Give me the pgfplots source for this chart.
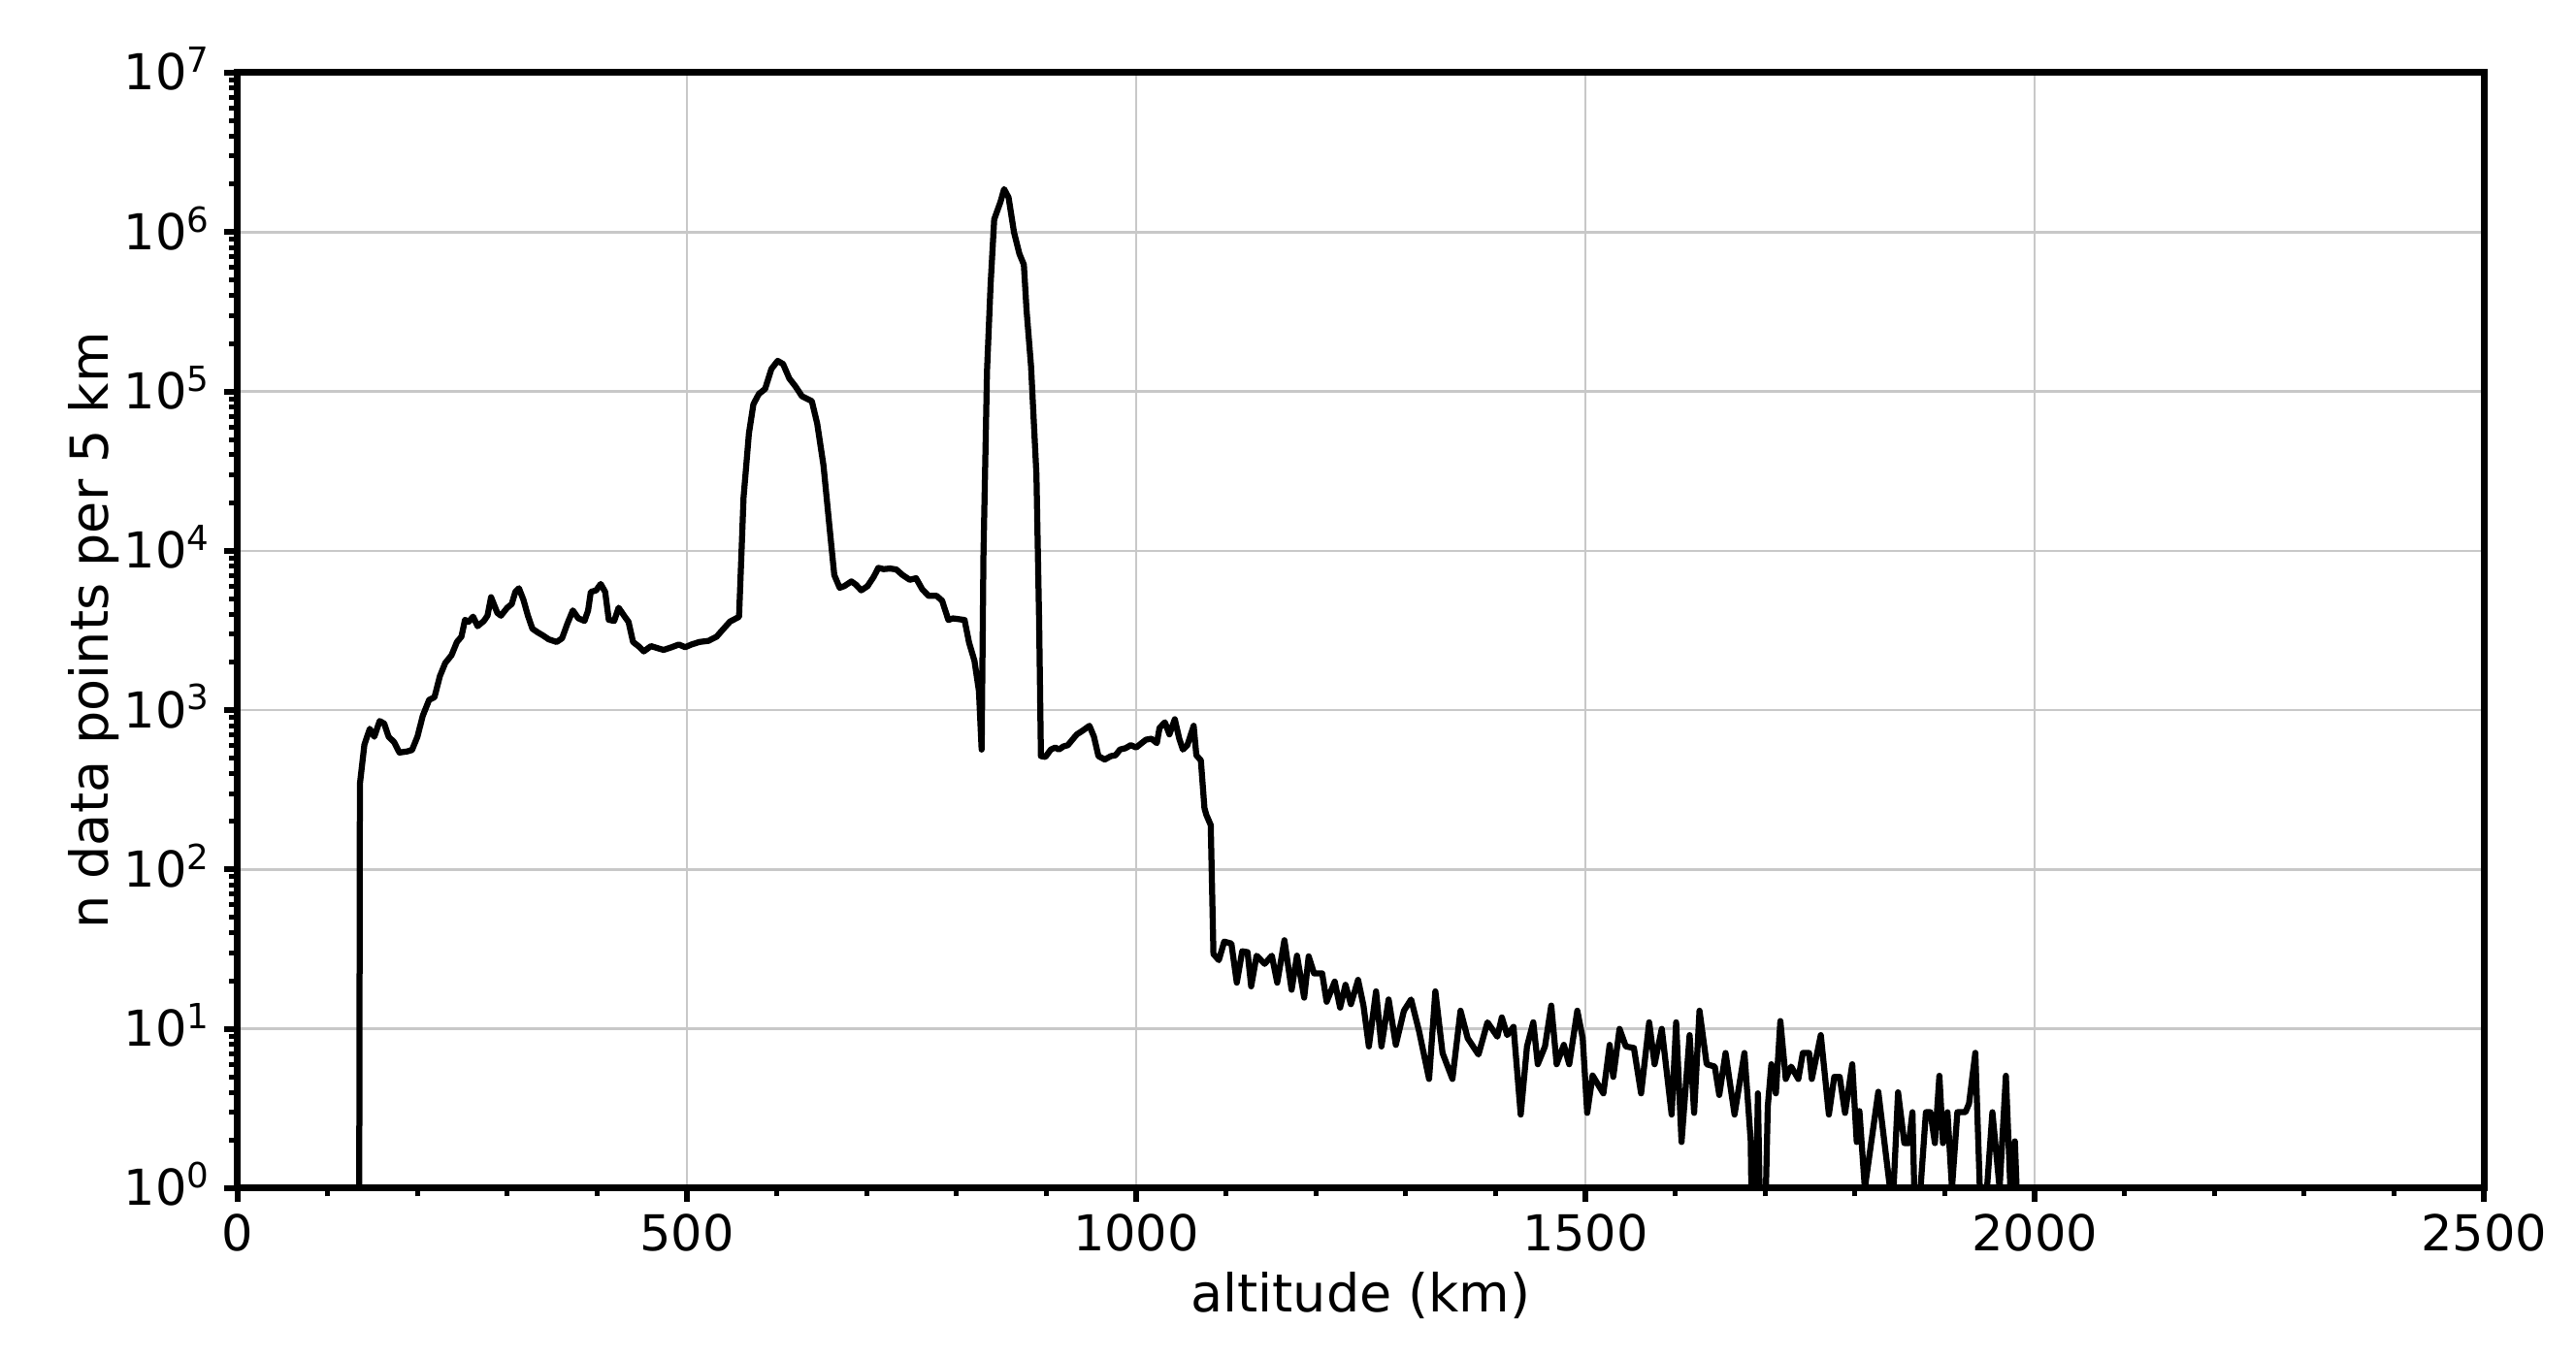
\documentclass[border=0pt]{standalone}
\usepackage{fontspec}
\setmainfont{DejaVu Sans}
\usepackage{pgfplots}
\pgfplotsset{compat=1.18}
\definecolor{gridgray}{RGB}{200,200,200}
\begin{document}
\begin{tikzpicture}
\begin{axis}[
  scale only axis,
  width=463pt, height=230pt,
  xmin=0, xmax=2500,
  ymin=1, ymax=1e7,
  ymode=log, log basis y=10,
  xtick={0,500,1000,1500,2000,2500},
  minor x tick num=4,
  ytick={1,10,100,1000,10000,100000,1000000,10000000},
  yticklabels={10\textsuperscript{0},10\textsuperscript{1},10\textsuperscript{2},10\textsuperscript{3},10\textsuperscript{4},10\textsuperscript{5},10\textsuperscript{6},10\textsuperscript{7}},
  minor ytick={2,3,4,5,6,7,8,9,20,30,40,50,60,70,80,90,200,300,400,500,600,700,800,900,2000,3000,4000,5000,6000,7000,8000,9000,2e4,3e4,4e4,5e4,6e4,7e4,8e4,9e4,2e5,3e5,4e5,5e5,6e5,7e5,8e5,9e5,2e6,3e6,4e6,5e6,6e6,7e6,8e6,9e6},
  tick align=outside,
  tick pos=left,
  major tick length=2.8pt,
  minor tick length=1.7pt,
  every major tick/.append style={line width=1.2pt, black},
  every minor tick/.append style={line width=1pt, black},
  axis line style={line width=1.4pt},
  grid=major,
  major grid style={gridgray, line width=0.5pt},
  /pgf/number format/assume math mode=true,
  /pgf/number format/1000 sep={},
  tick label style={font=\fontsize{10.2}{12}\selectfont},
  xticklabel style={inner sep=0pt, anchor=north, yshift=-2.4pt},
  yticklabel style={inner sep=0pt, anchor=base east, yshift=-0.36em, xshift=-2.4pt},
  label style={font=\fontsize{10.8}{13}\selectfont},
  xlabel={altitude (km)},
  ylabel={n data points per 5 km},
  xlabel style={at={(axis description cs:0.5,0)}, anchor=north, inner sep=0pt, yshift=-17.1pt},
  ylabel style={at={(axis description cs:-0.0525,0.5)}, anchor=south, inner sep=0pt},
]
\addplot[black, line width=1.25pt, line join=round] coordinates {
(135,0.1) (136,344) (141,607) (147,764) (152,681) (158,855) (163,824) (168,681)
(174,631) (180,542) (188,550) (194,562) (200,681) (206,923) (213,1159) (219,1205)
(225,1633) (231,1977) (238,2213) (244,2679) (249,2891) (253,3690) (257,3581)
(262,3864) (267,3365) (274,3631) (278,3917) (282,5117) (289,4074) (293,3917)
(300,4395) (305,4634) (309,5521) (313,5821) (318,4932) (323,3917) (328,3243)
(334,3076) (340,2938) (346,2786) (355,2679) (361,2825) (367,3499) (373,4227)
(379,3776) (386,3631) (390,4227) (393,5521) (399,5649) (404,6194) (409,5521)
(413,3690) (419,3631) (424,4395) (430,3917) (435,3581) (440,2679) (446,2523)
(452,2339) (460,2523) (468,2443) (474,2388) (483,2483) (491,2582) (498,2483)
(505,2582) (514,2679) (524,2723) (533,2891)
(543,3350) (548,3597) (558,3855) (561,10720) (563,21530) (569,54580) (574,83180)
(580,96390) (587,103700) (594,138400) (601,155600) (607,148600) (614,120500)
(621,107200) (628,93330) (639,86900) (645,62810) (652,34280) (659,13520)
(664,7047) (670,5861) (675,5998) (683,6427) (688,6138) (694,5649) (701,5998)
(708,6887) (713,7816) (719,7674) (726,7745) (733,7638) (740,7047) (748,6577)
(755,6730) (762,5728) (769,5212) (778,5212) (784,4864) (791,3681) (796,3767)
(804,3715) (809,3681) (814,2655)
(820,2042) (825,1318) (828,566) (830,9162) (834,134900) (838,472000)
(842,1202000) (849,1549000) (853,1862000) (858,1648000) (864,1000000)
(870,731000) (875,625000) (878,323600) (883,143900) (889,30060) (892,3581)
(894,515) (899,509) (905,566) (910,583) (914,566) (919,592) (924,603) (929,653)
(934,705) (940,741) (948,798) (953,682) (958,515) (965,490) (972,515) (977,521)
(982,566) (988,577) (994,603) (1000,583) (1006,621) (1011,653) (1017,662)
(1023,621) (1026,774) (1032,839) (1037,705) (1043,877) (1048,661) (1052,566)
(1057,603) (1064,798) (1067,521) (1072,484) (1076,243) (1078,221) (1083,190)
(1086,29.5) (1092,27) (1098,35.3) (1106,34.3) (1112,19.5) (1118,30.7) (1124,30.3)
(1128,18.5) (1134,28.8) (1143,25.6) (1151,28.8) (1157,19.5) (1165,36) (1173,17.6)
(1179,28.8) (1187,15.7) (1192,28.5) (1198,22.3) (1207,22.3) (1212,14.8)
(1221,19.8) (1227,13.6) (1233,18.9) (1239,14.3) (1247,20.3) (1253,14) (1259,7.76)
(1267,17.2) (1273,7.76) (1281,15.3) (1289,7.94) (1298,13) (1306,15.3) (1315,9.6)
(1326,4.85) (1333,17.2) (1341,7.06) (1352,4.85) (1361,13) (1369,8.73) (1381,6.9)
(1391,11) (1402,8.93) (1407,11.8) (1413,9.14) (1420,10.3) (1428,2.9) (1435,7.76)
(1442,11) (1447,6) (1455,7.76) (1462,14) (1468,6) (1476,7.94) (1482,6) (1491,13)
(1497,8.73) (1502,2.97) (1508,5.1) (1520,3.94) (1527,7.94) (1531,5) (1538,10)
(1545,7.76) (1554,7.59) (1562,3.94) (1571,11) (1577,6) (1585,10) (1596,2.9)
(1601,11) (1607,1.95) (1616,9.14) (1621,2.97) (1627,13) (1635,6) (1644,5.8)
(1649,3.85) (1656,7.06) (1666,2.9) (1677,7.06) (1684,1.99) (1687,0.1) (1692,3.94)
(1697,0.1) (1703,3.26) (1707,6) (1712,3.94) (1717,11.2) (1723,4.85) (1729,5.8)
(1737,4.85) (1742,7.06) (1749,7.06) (1752,4.85) (1762,9.14) (1771,2.9) (1777,5)
(1783,5) (1789,2.97) (1797,6) (1802,1.95) (1805,3.05) (1811,1) (1826,4.03)
(1839,1) (1843,1) (1848,4) (1855,1.92) (1860,1.92) (1864,3) (1866,1) (1873,1)
(1879,3) (1884,3) (1889,1.92) (1894,5.08) (1898,1.92) (1903,3) (1908,1) (1914,3)
(1923,3) (1927,3.4) (1934,7.08) (1939,1) (1947,1) (1953,3) (1961,1) (1968,5.08)
(1973,1) (1978,1.97) (1980,1)
};
\end{axis}
\path ([xshift=-49pt,yshift=-35pt]current axis.south west) rectangle ([xshift=19pt,yshift=15pt]current axis.north east);
\end{tikzpicture}
\end{document}
